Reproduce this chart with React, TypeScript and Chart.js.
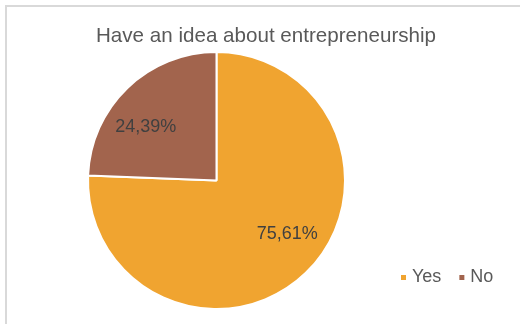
import React, { useEffect, useRef } from "react";
import { Chart, registerables } from "chart.js";

Chart.register(...registerables);

const title = "Have an idea about entrepreneurship";
const categories = ["Yes", "No"];
const values = [75.61, 24.39];
const valueLabels = ["75,61%", "24,39%"];
const colors = ["#F0A430", "#A2644D"];

const FONT = "'Liberation Sans', Arial, sans-serif";

const decorPlugin = {
  id: "decor",
  beforeDraw(chart: any) {
    const ctx = chart.ctx;
    ctx.save();
    ctx.fillStyle = "#FFFFFF";
    ctx.fillRect(0, 0, chart.width, chart.height);
    ctx.strokeStyle = "#D9D9D9";
    ctx.lineWidth = 2;
    ctx.strokeRect(6, 6, chart.width + 20, chart.height + 20);
    ctx.restore();
  },
  afterDraw(chart: any) {
    const ctx = chart.ctx;
    ctx.save();
    // title
    ctx.fillStyle = "#595959";
    ctx.font = `20.6px ${FONT}`;
    ctx.textAlign = "center";
    ctx.textBaseline = "alphabetic";
    ctx.fillText(title, 266, 42);

    // data labels
    const meta = chart.getDatasetMeta(0);
    ctx.font = `18px ${FONT}`;
    ctx.fillStyle = "#404040";
    ctx.textAlign = "center";
    ctx.textBaseline = "middle";
    meta.data.forEach((arc: any, i: number) => {
      const { x, y, startAngle, endAngle, outerRadius } = arc.getProps(
        ["x", "y", "startAngle", "endAngle", "outerRadius"],
        true
      );
      const mid = (startAngle + endAngle) / 2 - (9 * Math.PI) / 180;
      const r = outerRadius * 0.69;
      ctx.fillText(valueLabels[i], x + Math.cos(mid) * r, y + Math.sin(mid) * r);
    });

    // legend
    ctx.font = `18px ${FONT}`;
    ctx.textAlign = "left";
    ctx.textBaseline = "middle";
    let lx = 401;
    const ly = 277.5;
    categories.forEach((c, i) => {
      ctx.fillStyle = colors[i];
      ctx.fillRect(lx, ly - 2.5, 5, 5);
      ctx.fillStyle = "#595959";
      ctx.fillText(c, lx + 11, ly);
      lx += 11 + ctx.measureText(c).width + 18;
    });
    ctx.restore();
  },
};

export default function App() {
  const ref = useRef<HTMLCanvasElement | null>(null);
  useEffect(() => {
    if (!ref.current) return;
    const chart = new Chart(ref.current, {
      type: "pie",
      data: {
        labels: categories,
        datasets: [
          {
            data: values,
            backgroundColor: colors,
            borderColor: "#FFFFFF",
            borderWidth: 2,
          },
        ],
      },
      options: {
        animation: false,
        responsive: false,
        events: [],
        layout: { padding: { left: 87, right: 174, top: 51, bottom: 14 } },
        plugins: {
          legend: { display: false },
          title: { display: false },
          tooltip: { enabled: false },
        },
      },
      plugins: [decorPlugin],
    });
    return () => chart.destroy();
  }, []);
  return (
    <div style={{ position: "fixed", left: 0, top: 0, width: 520, height: 324, background: "#fff" }}>
      <canvas ref={ref} width={520} height={324} style={{ display: "block", width: 520, height: 324 }} />
    </div>
  );
}
